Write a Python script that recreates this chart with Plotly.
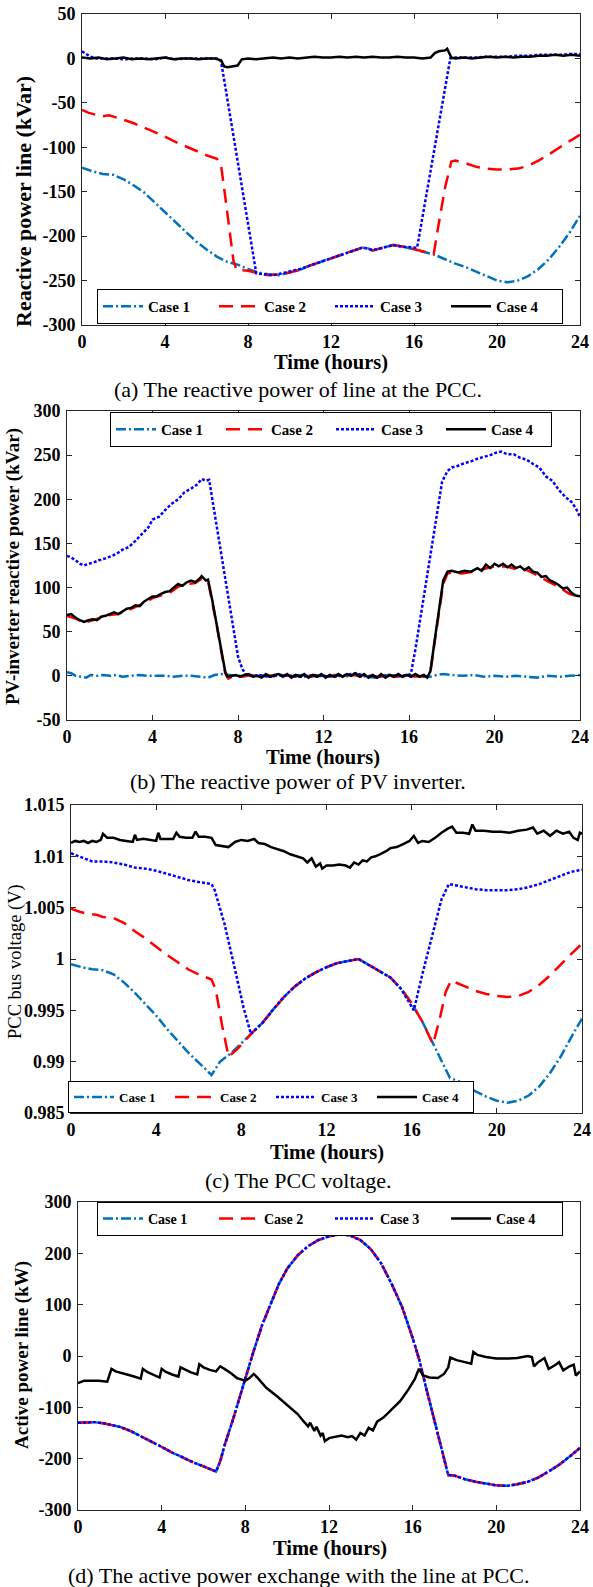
import plotly.graph_objects as go

# ---------------- DATA (hours, value) ----------------
# (a) Reactive power line at the PCC (kVar)
a_case1 = [(0,-123),(0.5,-127),(1,-130),(1.5,-131),(2,-136),(2.5,-143),(3,-151),(3.5,-162),(4,-174),(4.5,-185),
           (5,-196),(5.5,-206),(6,-215),(6.5,-223),(7,-229),(7.5,-232),(8,-237),(8.5,-241),(9,-243),(9.5,-244),
           (10,-241),(10.5,-238),(11,-233),(11.5,-229),(12,-225),(12.5,-221),(13,-217),(13.5,-213),(13.8,-214),
           (14,-216),(14.5,-213),(15,-210),(15.5,-212),(16,-215),(16.5,-218),(17,-221),(17.5,-226),(18,-231),
           (18.5,-235),(19,-240),(19.5,-245),(20,-250),(20.5,-252),(21,-250),(21.5,-245),(22,-237),(22.5,-226),
           (23,-212),(23.5,-196),(24,-177)]
a_case2 = [(0,-58),(0.3,-61),(0.6,-63),(1,-65),(1.3,-64),(1.6,-66),(2,-69),(2.5,-73),(3,-78),(3.5,-83),(4,-88),
           (4.5,-94),(5,-99),(5.5,-104),(6,-109),(6.5,-113),(6.7,-120),(6.9,-155),(7.1,-195),(7.3,-228),(7.45,-238),
           (8,-239),(8.5,-242),(9,-244),(9.5,-243),(10,-241),(10.5,-238),(11,-233),(11.5,-229),(12,-225),(12.5,-221),
           (13,-217),(13.5,-213),(13.8,-214),(14,-216),(14.5,-213),(15,-210),(15.5,-212),(16,-215),(16.5,-218),
           (16.95,-220),(17.2,-185),(17.5,-145),(17.8,-116),(18,-115),(18.5,-118),(19,-122),(19.5,-124),(20,-125),
           (20.5,-125),(21,-124),(21.5,-121),(22,-115),(22.5,-108),(23,-100),(23.5,-93),(24,-86)]
a_case3 = [(0,8),(0.2,5),(0.4,2),(0.7,0),(1,0),(1.5,0),(2,-1),(2.5,0),(3,0),(3.5,-1),(4,1),(4.5,-1),(5,0),(5.5,0),
           (6,0),(6.5,0),(6.7,-3),(8.4,-242),(8.8,-243),(9.2,-244),(9.6,-242),(10,-240),(10.5,-237),(11,-233),
           (11.5,-229),(12,-225),(12.5,-221),(13,-217),(13.5,-213),(13.8,-214),(14,-216),(14.5,-213),(15,-210),
           (15.5,-212),(16.15,-213),(17.75,0),(18,1),(18.5,1),(19,1),(19.5,2),(20,2),(20.5,2),(21,3),(21.5,3),
           (22,4),(22.5,4),(23,4),(23.5,5),(24,5)]
a_case4 = [(0,1),(0.4,0),(0.8,1),(1.2,-1),(1.6,0),(2.0,1),(2.4,-1),(2.8,0),(3.2,-1),(3.6,0),(4.0,1),(4.4,-1),
           (4.8,0),(5.2,0),(5.6,-1),(6.0,0),(6.4,0),(6.7,-2),(6.85,-9),(7.0,-10),(7.3,-9),(7.5,-8),(7.7,-1),(8.0,0),
           (8.4,-1),(8.8,0),(9.2,1),(9.6,0),(10.0,1),(10.4,0),(10.8,1),(11.2,2),(11.6,1),(12.0,1),(12.4,2),(12.8,1),
           (13.2,2),(13.6,1),(14.0,2),(14.4,1),(14.8,1),(15.2,2),(15.6,1),(16.0,1),(16.4,0),(16.8,1),(17.0,6),
           (17.2,8),(17.5,9),(17.6,11),(17.8,1),(18.0,0),(18.4,1),(18.8,0),(19.2,1),(19.6,2),(20.0,1),(20.4,2),
           (20.8,1),(21.2,2),(21.6,2),(22.0,3),(22.4,3),(22.8,4),(23.2,3),(23.6,4),(24,3)]

# (b) PV-inverter reactive power (kVar)
b_case1 = [(0,4),(0.2,3),(0.4,0),(0.6,-1),(0.9,-2),(1.1,1),(1.4,0),(1.7,1),(2.0,0),(2.3,1),(2.6,-1),(3.0,0),
           (3.4,1),(3.8,0),(4.2,0),(4.6,0),(5.0,-1),(5.4,0),(5.8,0),(6.2,-1),(6.6,-2),(6.9,1),(7.2,2),(7.6,1),
           (8.0,0),(8.5,1),(9,0),(9.5,-1),(10,1),(10.5,0),(11,1),(11.5,-1),(12,0),(12.5,1),(13,-1),(13.5,2),(14,-1),
           (14.5,-2),(15,1),(15.5,0),(16,1),(16.5,-1),(17,-1),(17.3,1),(17.6,2),(18,1),(18.5,0),(19,1),(19.5,-1),
           (20,0),(20.5,-1),(21,0),(21.5,-1),(22,-2),(22.5,0),(23,-1),(23.5,0),(24,1)]
b_case2 = [(0,68),(0.4,65),(0.8,60),(1.2,63),(1.6,66),(2.0,69),(2.4,70),(2.8,74),(3.2,78),(3.6,82),(4.0,88),
           (4.4,91),(4.8,94),(5.2,101),(5.6,104),(6.0,105),(6.3,110),(6.6,107),(6.8,84),(7.0,58),(7.2,30),(7.4,3),
           (7.55,-3),(7.8,0),(8.2,-1),(8.6,1),(9,-1),(9.4,1),(9.8,-1),(10.2,1),(10.6,-1),(11,0),(11.4,-1),(11.8,1),
           (12.2,-1),(12.6,1),(13,0),(13.4,1),(13.8,-1),(14.2,0),(14.6,-1),(15,0),(15.4,-1),(15.8,0),(16.2,-1),
           (16.6,0),(16.9,-1),(17.0,4),(17.2,38),(17.4,72),(17.6,104),(17.8,116),(18.0,117),(18.5,116),(19,118),
           (19.5,121),(20,124),(20.5,124),(21,121),(21.5,120),(22,114),(22.5,107),(23,101),(23.5,93),(24,89)]
b_case3 = [(0,136),(0.2,134),(0.4,131),(0.6,127),(0.8,125),(1.0,127),(1.2,128),(1.5,131),(1.8,133),(2.0,135),
           (2.3,138),(2.6,143),(2.9,146),(3.2,153),(3.5,161),(3.8,168),(4.0,177),(4.3,180),(4.6,188),(4.9,195),
           (5.2,200),(5.5,208),(5.8,212),(6.1,217),(6.3,223),(6.5,221),(6.65,222),(6.9,185),(7.15,148),(7.5,95),
           (7.8,50),(8.0,22),(8.2,8),(8.35,2),(8.6,0),(9,1),(9.5,-1),(10,1),(10.5,0),(11,-1),(11.5,1),(12,0),
           (12.5,-1),(13,1),(13.5,3),(14,0),(14.5,-1),(15,1),(15.5,0),(16,1),(16.1,4),(16.3,30),(16.5,60),
           (16.75,100),(17.0,140),(17.3,185),(17.55,220),(17.8,232),(18.0,236),(18.3,238),(18.6,241),(18.9,243),
           (19.2,246),(19.5,248),(19.8,250),(20.1,253),(20.3,254),(20.6,251),(20.9,251),(21.2,247),(21.5,245),
           (21.8,240),(22.1,236),(22.4,226),(22.7,221),(23.0,211),(23.3,203),(23.6,197),(23.8,190),(24,180)]
b_case4 = [(0,69),(0.2,70),(0.4,66),(0.6,63),(0.8,61),(1.0,63),(1.2,64),(1.4,63),(1.6,67),(1.8,68),(2.0,70),
           (2.2,72),(2.4,70),(2.6,73),(2.8,76),(3.0,77),(3.2,80),(3.4,79),(3.6,84),(3.8,87),(4.0,90),(4.2,90),
           (4.4,93),(4.6,95),(4.8,96),(5.0,100),(5.2,104),(5.4,102),(5.6,106),(5.8,108),(6.0,106),(6.2,110),
           (6.3,113),(6.5,108),(6.6,109),(6.8,85),(7.0,58),(7.2,30),(7.4,5),(7.5,-1),(7.7,0),(7.9,1),(8.1,-1),
           (8.3,1),(8.5,2),(8.7,-1),(8.9,0),(9.1,-2),(9.3,2),(9.5,-1),(9.7,1),(9.9,2),(10.1,-1),(10.3,2),(10.5,-2),
           (10.7,1),(10.9,-1),(11.1,2),(11.3,-2),(11.5,1),(11.7,-1),(11.9,2),(12.1,-2),(12.3,1),(12.5,-1),(12.7,2),
           (12.9,-1),(13.1,2),(13.3,0),(13.5,3),(13.7,-1),(13.9,2),(14.1,-2),(14.3,1),(14.5,-2),(14.7,2),(14.9,-2),
           (15.1,1),(15.3,-1),(15.5,2),(15.7,-1),(15.9,1),(16.1,-1),(16.3,2),(16.5,-1),(16.7,1),(16.85,-2),(17.0,5),
           (17.2,40),(17.4,76),(17.6,108),(17.8,118),(18.0,119),(18.3,117),(18.6,119),(18.9,118),(19.2,122),
           (19.4,119),(19.6,126),(19.8,122),(20.0,127),(20.2,124),(20.4,127),(20.6,123),(20.8,126),(21.0,122),
           (21.2,124),(21.4,120),(21.6,123),(21.8,118),(22.0,117),(22.2,112),(22.4,113),(22.6,108),(22.8,106),
           (23.0,103),(23.2,99),(23.4,100),(23.6,94),(23.8,91),(24,90)]

# (c) PCC bus voltage (V)
c_case1 = [(0,0.9995),(0.5,0.9992),(1,0.9990),(1.5,0.9989),(2,0.9985),(2.5,0.9977),(3,0.9967),(3.5,0.9956),
           (4,0.9945),(4.5,0.9932),(5,0.9920),(5.5,0.9909),(6,0.9899),(6.6,0.9887),(7,0.9900),(7.5,0.9908),
           (8,0.9918),(8.5,0.9928),(9,0.9938),(9.5,0.9951),(10,0.9963),(10.5,0.9973),(11,0.9981),(11.5,0.9987),
           (12,0.9992),(12.5,0.9996),(13,0.9998),(13.5,1.0000),(14,0.9994),(14.5,0.9988),(15,0.9982),(15.5,0.9971),
           (16,0.9957),(16.5,0.9939),(17,0.9918),(17.4,0.9900),(17.8,0.9884),(18.2,0.9881),(18.6,0.9876),
           (19,0.9871),(19.5,0.9866),(20,0.9862),(20.5,0.9860),(21,0.9862),(21.5,0.9867),(22,0.9876),(22.5,0.9889),
           (23,0.9905),(23.5,0.9924),(24,0.9942)]
c_case2 = [(0,1.0049),(0.4,1.0046),(0.8,1.0044),(1.2,1.0043),(1.5,1.0041),(2,1.0040),(2.5,1.0035),(3,1.0027),
           (3.5,1.0020),(4,1.0012),(4.5,1.0004),(5,0.9997),(5.5,0.9990),(6,0.9985),(6.6,0.9980),(6.8,0.9970),
           (7.1,0.9935),(7.4,0.9905),(7.8,0.9912),(8.2,0.9921),(8.5,0.9928),(9,0.9938),(9.5,0.9951),(10,0.9963),
           (10.5,0.9973),(11,0.9981),(11.5,0.9987),(12,0.9992),(12.5,0.9996),(13,0.9998),(13.5,1.0000),(14,0.9994),
           (14.5,0.9988),(15,0.9982),(15.5,0.9971),(16,0.9957),(16.5,0.9939),(17.0,0.9917),(17.3,0.9940),
           (17.6,0.9968),(17.85,0.9979),(18.2,0.9976),(18.6,0.9972),(19,0.9969),(19.5,0.9966),(20,0.9964),
           (20.5,0.9963),(21,0.9964),(21.5,0.9968),(22,0.9975),(22.5,0.9984),(23,0.9995),(23.5,1.0005),(24,1.0015)]
c_case3 = [(0,1.0103),(0.5,1.0099),(1,1.0095),(1.5,1.0095),(2,1.0094),(2.5,1.0092),(3,1.0089),(3.5,1.0088),
           (4,1.0086),(4.5,1.0083),(5,1.0080),(5.5,1.0077),(6,1.0075),(6.6,1.0073),(6.75,1.0067),(7.2,1.0035),
           (7.7,0.9990),(8.1,0.9953),(8.45,0.9927),(8.5,0.9928),(9,0.9938),(9.5,0.9951),(10,0.9963),(10.5,0.9973),
           (11,0.9981),(11.5,0.9987),(12,0.9992),(12.5,0.9996),(13,0.9998),(13.5,1.0000),(14,0.9994),(14.5,0.9988),
           (15,0.9982),(15.5,0.9971),(16.1,0.9950),(16.5,0.9985),(17,1.0025),(17.4,1.0058),(17.75,1.0073),
           (18,1.0072),(18.5,1.0070),(19,1.0068),(19.5,1.0067),(20,1.0067),(20.5,1.0067),(21,1.0068),(21.5,1.0070),
           (22,1.0073),(22.5,1.0077),(23,1.0081),(23.5,1.0085),(24,1.0087)]
c_case4 = [(0,1.0113),(0.2,1.0115),(0.4,1.0114),(0.6,1.0115),(0.8,1.0113),(1.0,1.0115),(1.2,1.0114),(1.4,1.0116),
           (1.5,1.0122),(1.7,1.0118),(2.0,1.0118),(2.3,1.0116),(2.6,1.0115),(2.9,1.0114),(3.0,1.0121),(3.1,1.0116),
           (3.4,1.0117),(3.7,1.0116),(4.0,1.0115),(4.1,1.0123),(4.2,1.0117),(4.5,1.0117),(4.8,1.0117),(4.95,1.0123),
           (5.1,1.0119),(5.4,1.0118),(5.7,1.0118),(5.85,1.0124),(6.0,1.0119),(6.3,1.0119),(6.6,1.0118),(6.8,1.0111),
           (7.1,1.0110),(7.4,1.0109),(7.7,1.0114),(8.0,1.0116),(8.3,1.0115),(8.6,1.0117),(8.8,1.0113),(9.1,1.0112),
           (9.4,1.0109),(9.7,1.0107),(10.0,1.0105),(10.3,1.0102),(10.6,1.0100),(10.9,1.0098),(11.1,1.0094),
           (11.3,1.0098),(11.5,1.0090),(11.7,1.0093),(11.8,1.0088),(12.0,1.0091),(12.3,1.0091),(12.6,1.0092),
           (12.9,1.0091),(13.1,1.0089),(13.3,1.0094),(13.5,1.0092),(13.7,1.0096),(13.9,1.0095),(14.1,1.0099),
           (14.3,1.0100),(14.5,1.0102),(14.8,1.0105),(15.0,1.0108),(15.3,1.0109),(15.6,1.0112),(15.9,1.0115),
           (16.1,1.0120),(16.3,1.0113),(16.5,1.0115),(16.8,1.0114),(17.1,1.0118),(17.4,1.0123),(17.7,1.0127),
           (17.9,1.0129),(18.1,1.0123),(18.4,1.0123),(18.7,1.0122),(18.85,1.0131),(19.0,1.0125),(19.4,1.0125),
           (19.8,1.0124),(20.2,1.0124),(20.6,1.0123),(21.0,1.0125),(21.4,1.0126),(21.7,1.0128),(21.9,1.0122),
           (22.2,1.0125),(22.5,1.0120),(22.8,1.0125),(23.1,1.0122),(23.4,1.0124),(23.6,1.0118),(23.8,1.0116),
           (23.9,1.0123),(24,1.0122)]

# (d) Active power line (kW) - cases 1, 2 and 3 coincide in the reference
d_case1 = [(0,-130),(0.4,-129),(0.8,-129),(1.2,-131),(1.6,-134),(2,-138),(2.5,-146),(3,-156),(3.5,-166),(4,-177),
           (4.5,-188),(5,-198),(5.5,-207),(6,-215),(6.35,-221),(6.6,-225),(6.8,-205),(7.0,-175),(7.4,-125),
           (7.8,-70),(8.0,-42),(8.4,10),(8.8,60),(9.2,100),(9.6,140),(10,170),(10.5,196),(11,214),(11.5,226),
           (12,233),(12.5,237),(13,235),(13.5,226),(14,208),(14.5,180),(15,140),(15.5,95),(16,35),(16.3,-5),
           (16.6,-55),(17,-120),(17.3,-170),(17.7,-232),(18,-233),(18.5,-240),(19,-245),(19.5,-249),(20,-252),
           (20.5,-253),(21,-250),(21.5,-245),(22,-237),(22.5,-225),(23,-212),(23.5,-196),(24,-179)]
d_case2 = list(d_case1)
d_case3 = list(d_case1)
d_case4 = [(0,-53),(0.3,-48),(0.7,-48),(1.0,-48),(1.4,-50),(1.6,-25),(1.8,-30),(2.2,-34),(2.6,-39),(3.0,-44),
           (3.1,-25),(3.3,-31),(3.6,-36),(3.9,-42),(4.0,-25),(4.2,-31),(4.5,-36),(4.8,-40),(4.9,-22),(5.1,-26),
           (5.4,-32),(5.7,-36),(5.8,-16),(6.0,-22),(6.3,-27),(6.6,-30),(6.8,-20),(7.0,-25),(7.3,-33),(7.6,-43),
           (8.0,-48),(8.2,-43),(8.4,-35),(8.6,-43),(9.0,-62),(9.5,-78),(10,-95),(10.5,-113),(10.8,-128),(11.0,-137),
           (11.1,-130),(11.3,-146),(11.4,-138),(11.6,-155),(11.7,-150),(11.8,-166),(12.0,-160),(12.3,-157),
           (12.6,-155),(12.9,-158),(13.1,-156),(13.3,-163),(13.5,-150),(13.7,-155),(13.9,-140),(14.1,-145),
           (14.3,-128),(14.6,-120),(15.0,-103),(15.4,-88),(15.8,-65),(16.1,-45),(16.3,-25),(16.5,-38),(16.8,-42),
           (17.2,-43),(17.5,-35),(17.7,-22),(17.8,-3),(18.1,-8),(18.5,-12),(18.8,-15),(18.9,8),(19.1,2),(19.5,-2),
           (20,-5),(20.5,-5),(21,-4),(21.5,0),(21.7,-2),(21.8,-20),(22.0,-12),(22.3,-4),(22.5,-25),(22.8,-18),
           (23.0,-12),(23.2,-28),(23.5,-20),(23.7,-17),(23.8,-38),(24,-30)]

case_names = ["Case 1", "Case 2", "Case 3", "Case 4"]
x_ticks = [0, 4, 8, 12, 16, 20, 24]
a_yticks = [-300, -250, -200, -150, -100, -50, 0, 50]
b_yticks = [-50, 0, 50, 100, 150, 200, 250, 300]
c_yticks = [0.985, 0.99, 0.995, 1.0, 1.005, 1.01, 1.015]
c_yticklabels = ["0.985", "0.99", "0.995", "1", "1.005", "1.01", "1.015"]
d_yticks = [-300, -200, -100, 0, 100, 200, 300]

y_titles = ["Reactive power line (kVar)", "PV-inverter reactive power (kVar)",
            "PCC bus voltage (V)", "Active power line (kW)"]
x_title = "Time (hours)"
captions = ["(a) The reactive power of line at the PCC.", "(b) The reactive power of PV inverter.",
            "(c) The PCC voltage.", "(d) The active power exchange with the line at PCC."]

# ---------------- STYLE / LAYOUT ----------------
W, H = 593, 1587
SERIF = "Liberation Serif"
styles = [
    dict(color="#0072BD", dash="10px,3px,2px,3px", width=2.5),
    dict(color="#FF0000", dash="14px,8px", width=2.5),
    dict(color="#0000FF", dash="3px,2px", width=2.5),
    dict(color="#000000", dash="solid", width=2.5),
]

# plot boxes in pixels: left, right, top, bottom
boxes = [(82, 580, 14, 325), (67, 580, 411, 720), (71, 582, 805, 1113), (78, 580, 1202, 1510)]
yranges = [[-300, 50], [-50, 300], [0.985, 1.015], [-300, 300]]
ytick_sets = [(a_yticks, [str(v) for v in a_yticks]), (b_yticks, [str(v) for v in b_yticks]),
              (c_yticks, c_yticklabels), (d_yticks, [str(v) for v in d_yticks])]
data_sets = [[a_case1, a_case2, a_case3, a_case4], [b_case1, b_case2, b_case3, b_case4],
             [c_case1, c_case2, c_case3, c_case4], [d_case1, d_case2, d_case3, d_case4]]
# legend boxes (left, top in px), font size, entry width
legend_pos = [(97, 289, 15, 61), (110, 412, 15, 55), (68, 1081, 13, 46), (97, 1202, 14, 61)]
ytitle_pos = [(24, 202, 22, "bold"), (13, 567, 19, "bold"), (15, 962, 18.5, "normal"), (22, 1355, 19, "bold")]
xtitle_pos = [(331, 362), (323, 757), (327, 1152), (330, 1548)]
caption_pos = [(298, 389), (298, 781), (298, 1180), (298, 1575)]

def fx(px): return px / W
def fy(py): return 1 - py / H

fig = go.Figure()
layout = dict(template="none", width=W, height=H,
              margin=dict(l=0, r=0, t=0, b=0, pad=0, autoexpand=False),
              paper_bgcolor="white", plot_bgcolor="white", showlegend=True, annotations=[])

for i in range(4):
    n = "" if i == 0 else str(i + 1)
    leg = "legend" if i == 0 else "legend" + str(i + 1)
    for k in range(4):
        pts = data_sets[i][k]
        fig.add_trace(go.Scatter(
            x=[p[0] for p in pts], y=[p[1] for p in pts], mode="lines", name=case_names[k],
            line=dict(color=styles[k]["color"], dash=styles[k]["dash"], width=styles[k]["width"]),
            xaxis="x" + n, yaxis="y" + n, legend=leg, showlegend=True))
    l, r, t, b = boxes[i]
    axis_common = dict(showline=True, linecolor="#262626", linewidth=1, mirror="allticks",
                       ticks="inside", ticklen=5, tickcolor="#262626", showgrid=False, zeroline=False,
                       automargin=False,
                       tickfont=dict(family=SERIF, size=18, color="black", weight="bold"))
    layout["xaxis" + n] = dict(domain=[fx(l), fx(r)], range=[0, 24], tickvals=x_ticks,
                               anchor="y" + n, ticklabelstandoff=0, **axis_common)
    tv, tt = ytick_sets[i]
    layout["yaxis" + n] = dict(domain=[fy(b), fy(t)], range=yranges[i], tickvals=tv, ticktext=tt,
                               anchor="x" + n, ticklabelstandoff=2, **axis_common)
    lx, ly, lfs, ew = legend_pos[i]
    layout[leg] = dict(x=fx(lx), y=fy(ly), xanchor="left", yanchor="top", orientation="h",
                       bgcolor="white", bordercolor="#000000", borderwidth=1,
                       font=dict(family=SERIF, size=lfs, color="black", weight="bold"),
                       entrywidth=ew, entrywidthmode="pixels", itemwidth=40, tracegroupgap=0)
    tx, ty, tfs, tw = ytitle_pos[i]
    layout["annotations"].append(dict(text=y_titles[i], x=fx(tx), y=fy(ty), xref="paper", yref="paper",
                                      showarrow=False, textangle=-90, xanchor="center", yanchor="middle",
                                      font=dict(family=SERIF, size=tfs, color="black", weight=tw)))
    xx, xy = xtitle_pos[i]
    layout["annotations"].append(dict(text=x_title, x=fx(xx), y=fy(xy), xref="paper", yref="paper",
                                      showarrow=False, xanchor="center", yanchor="middle",
                                      font=dict(family=SERIF, size=20.5, color="black", weight="bold")))
    cx, cy = caption_pos[i]
    layout["annotations"].append(dict(text=captions[i], x=fx(cx), y=fy(cy), xref="paper", yref="paper",
                                      showarrow=False, xanchor="center", yanchor="middle",
                                      font=dict(family=SERIF, size=22, color="black")))

fig.update_layout(**layout)
fig.write_html("out.html")
